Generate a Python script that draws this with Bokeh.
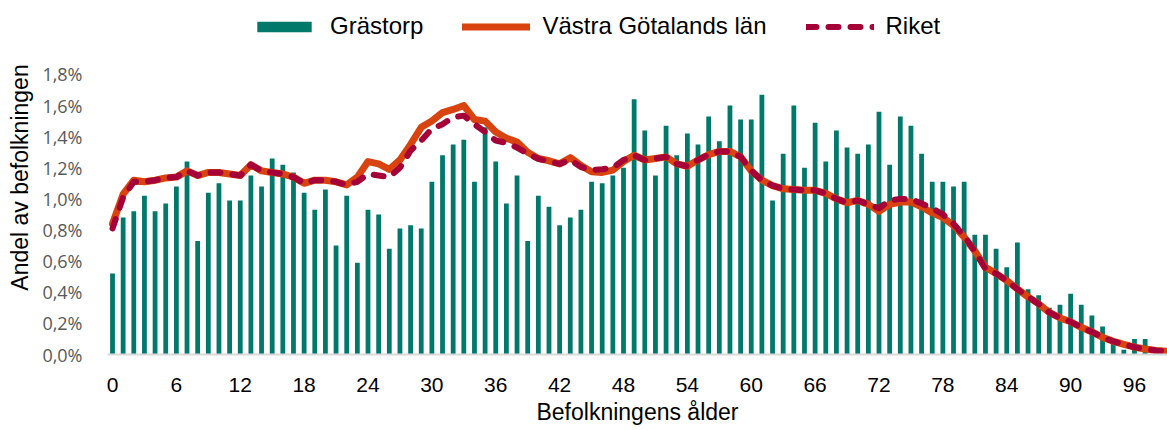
from bokeh.plotting import figure
from bokeh.models import (Range1d, FixedTicker, CustomJSTickFormatter, Legend, LegendItem,
                          ColumnDataSource)
from bokeh.embed import file_html
from bokeh.resources import INLINE

ages = list(range(0, 100))

grastorp = [0.52, 0.88, 0.92, 1.02, 0.92, 0.97, 1.08, 1.24, 0.73, 1.04,
            1.10, 0.99, 0.99, 1.15, 1.08, 1.26, 1.22, 1.17, 1.04, 0.93,
            1.06, 0.70, 1.02, 0.59, 0.93, 0.90, 0.68, 0.81, 0.83, 0.81,
            1.11, 1.28, 1.35, 1.38, 1.11, 1.46, 1.24, 0.97, 1.15, 0.73,
            1.02, 0.95, 0.83, 0.88, 0.93, 1.11, 1.10, 1.15, 1.20, 1.64,
            1.44, 1.15, 1.47, 1.28, 1.42, 1.35, 1.53, 1.37, 1.60, 1.51,
            1.51, 1.67, 0.99, 1.29, 1.60, 1.20, 1.49, 1.24, 1.44, 1.33,
            1.29, 1.35, 1.56, 1.22, 1.53, 1.47, 1.29, 1.11, 1.11, 1.08,
            1.11, 0.77, 0.77, 0.68, 0.56, 0.72, 0.42, 0.38, 0.30, 0.32,
            0.39, 0.32, 0.25, 0.18, 0.09, 0.03, 0.10, 0.10, 0.02, 0.01]

vastra_gotaland = [0.84, 1.03, 1.12, 1.11, 1.12, 1.135, 1.14, 1.18, 1.15, 1.17,
                   1.17, 1.16, 1.15, 1.22, 1.18, 1.17, 1.16, 1.14, 1.10, 1.12,
                   1.12, 1.11, 1.09, 1.14, 1.24, 1.225, 1.19, 1.25, 1.35, 1.46,
                   1.50, 1.555, 1.575, 1.60, 1.51, 1.50, 1.43, 1.39, 1.365, 1.30,
                   1.26, 1.245, 1.225, 1.265, 1.215, 1.175, 1.17, 1.185, 1.24, 1.28,
                   1.25, 1.26, 1.27, 1.225, 1.21, 1.25, 1.285, 1.305, 1.305, 1.27,
                   1.18, 1.12, 1.085, 1.065, 1.06, 1.055, 1.055, 1.035, 1.00, 0.975,
                   0.99, 0.965, 0.92, 0.965, 0.98, 0.98, 0.95, 0.91, 0.88, 0.83,
                   0.755, 0.665, 0.56, 0.52, 0.475, 0.42, 0.37, 0.325, 0.27, 0.235,
                   0.21, 0.175, 0.145, 0.11, 0.085, 0.065, 0.047, 0.035, 0.026, 0.021]

riket = [0.81, 1.01, 1.11, 1.11, 1.12, 1.135, 1.14, 1.18, 1.15, 1.17,
         1.17, 1.16, 1.15, 1.22, 1.18, 1.17, 1.16, 1.14, 1.10, 1.12,
         1.12, 1.11, 1.09, 1.11, 1.16, 1.15, 1.14, 1.20, 1.31, 1.375,
         1.45, 1.48, 1.525, 1.535, 1.48, 1.43, 1.375, 1.36, 1.33, 1.29,
         1.258, 1.24, 1.225, 1.25, 1.205, 1.185, 1.19, 1.20, 1.25, 1.28,
         1.25, 1.26, 1.27, 1.225, 1.21, 1.25, 1.285, 1.305, 1.305, 1.27,
         1.18, 1.12, 1.085, 1.065, 1.06, 1.055, 1.055, 1.035, 1.00, 0.975,
         0.99, 0.965, 0.94, 0.99, 1.00, 1.00, 0.97, 0.94, 0.90, 0.84,
         0.76, 0.665, 0.55, 0.52, 0.475, 0.42, 0.37, 0.325, 0.27, 0.235,
         0.21, 0.175, 0.145, 0.11, 0.085, 0.065, 0.047, 0.035, 0.026, 0.021]

x_ticks = [0, 6, 12, 18, 24, 30, 36, 42, 48, 54, 60, 66, 72, 78, 84, 90, 96]
y_ticks = [0.0, 0.2, 0.4, 0.6, 0.8, 1.0, 1.2, 1.4, 1.6, 1.8]

series_names = ["Grästorp", "Västra Götalands län", "Riket"]

GREEN = "#00796B"
ORANGE = "#D9430F"
CRIMSON = "#A50038"

src = ColumnDataSource(dict(age=ages, g=grastorp, v=vastra_gotaland, r=riket))

p = figure(width=1167, height=430, output_backend="svg", toolbar_location=None,
           x_range=Range1d(-0.47, 99.1), y_range=Range1d(0, 2.275),
           min_border_left=107, min_border_right=0, min_border_top=0, min_border_bottom=76)
p.outline_line_color = None
p.background_fill_color = "white"
p.border_fill_color = "white"
p.xgrid.grid_line_color = None
p.ygrid.grid_line_color = None

bars = p.vbar(x="age", top="g", width=0.45, bottom=0, source=src,
              fill_color=GREEN, line_color=None)
l_vg = p.line(x="age", y="v", source=src, line_color=ORANGE, line_width=7,
              line_join="round", line_cap="round")
l_r = p.line(x="age", y="r", source=src, line_color=CRIMSON, line_width=6,
             line_dash="10 12", line_join="round", line_cap="round")

# x axis
xa = p.xaxis[0]
xa.ticker = FixedTicker(ticks=x_ticks)
xa.axis_line_color = "#D9D9D9"
xa.axis_line_width = 2
xa.major_tick_line_color = None
xa.minor_tick_line_color = None
xa.major_label_text_font = "Liberation Sans"
xa.major_label_text_font_size = "21px"
xa.major_label_text_color = "#000000"
xa.major_label_standoff = 17
xa.axis_label = "Befolkningens ålder"
xa.axis_label_text_font = "Liberation Sans"
xa.axis_label_text_font_size = "23px"
xa.axis_label_text_font_style = "normal"
xa.axis_label_text_color = "#000000"
xa.axis_label_standoff = 4

# y axis
ya = p.yaxis[0]
ya.ticker = FixedTicker(ticks=y_ticks)
ya.formatter = CustomJSTickFormatter(code="return tick.toFixed(1).replace('.', ',') + '%';")
ya.axis_line_color = None
ya.major_tick_line_color = None
ya.minor_tick_line_color = None
ya.major_label_text_font = "Open Sans"
ya.major_label_text_font_size = "18px"
ya.major_label_text_color = "#595959"
ya.major_label_standoff = 19
ya.axis_label = "Andel av befolkningen"
ya.axis_label_text_font = "Liberation Sans"
ya.axis_label_text_font_size = "23px"
ya.axis_label_text_font_style = "normal"
ya.axis_label_text_color = "#000000"
ya.axis_label_standoff = 6

legend = Legend(items=[LegendItem(label=series_names[0], renderers=[bars]),
                       LegendItem(label=series_names[1], renderers=[l_vg]),
                       LegendItem(label=series_names[2], renderers=[l_r])],
                location=(143, 314), orientation="horizontal")
legend.background_fill_alpha = 0
legend.border_line_alpha = 0
legend.padding = 0
legend.margin = 0
legend.spacing = 39
legend.label_standoff = 12
legend.glyph_width = 68
legend.glyph_height = 13
legend.label_height = 26
legend.label_text_font = "Liberation Sans"
legend.label_text_font_size = "24px"
legend.label_text_color = "#000000"
p.add_layout(legend)

open("out.html", "w").write(file_html(p, INLINE))
